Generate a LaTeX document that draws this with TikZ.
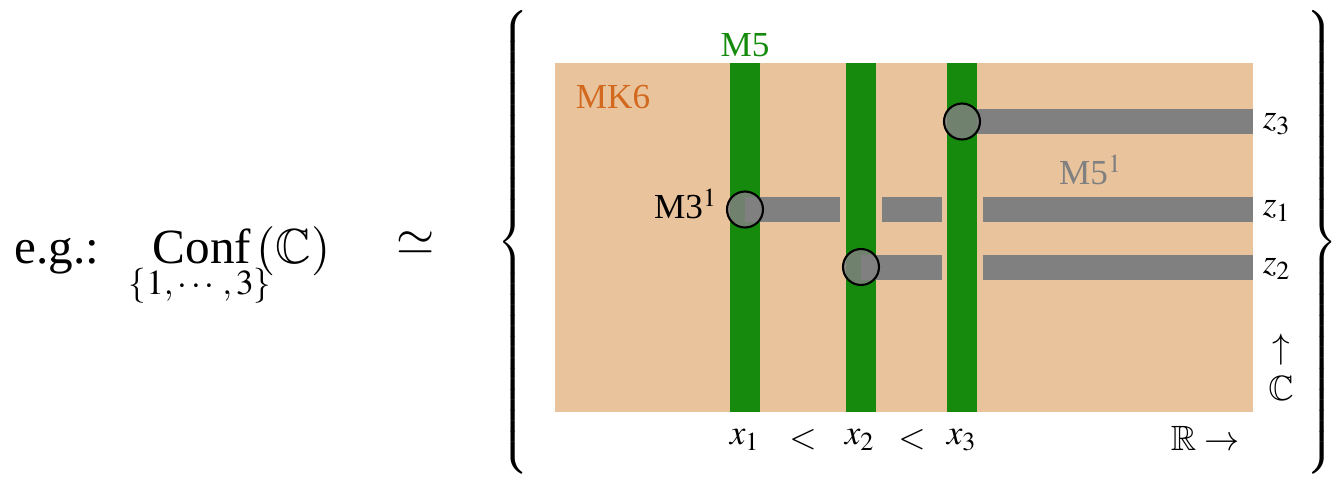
\documentclass[tikz,border=0pt]{standalone}
\usepackage{amsmath,amssymb}
\usepackage{mathptmx}
\usepackage{fontspec}
\setmainfont{Liberation Serif}
\usepackage{tikz}

\begin{document}
\begin{tikzpicture}[x=0.1mm,y=-0.1mm]
\definecolor{braneBulk}{HTML}{E9C39C}
\definecolor{braneGreen}{HTML}{158A0D}
\definecolor{braneGray}{HTML}{808080}
\definecolor{braneOrange}{HTML}{D2691E}
\useasboundingbox (0,0) rectangle (1337,478);
\node[anchor=base west,inner sep=0pt] (eg) at (14,263) {\fontsize{14}{17}\selectfont e.g.:};
\node[anchor=base] (conf) at (202,263) {\fontsize{14}{17}\selectfont Conf};
\node (confsub) at (200,286) {$\{1,\cdots,3\}$};
\node[anchor=base west,inner sep=0pt] (confarg) at (256,263) {\fontsize{14}{17}\selectfont $(\mathbb{C})$};
\node (simeq) at (416,243) {\fontsize{14}{17}\selectfont $\simeq$};
\node[inner sep=0pt] (lbrace) at (515,243) {$\left\{\rule[-2.25cm]{0pt}{4.5cm}\right.$};
\node[inner sep=0pt] (rbrace) at (1320,243) {$\left.\rule[-2.25cm]{0pt}{4.5cm}\right\}$};
\fill[braneBulk] (555,63) rectangle (1253,412);
\foreach \x in {745,861,962} {
  \fill[braneGreen] (\x-15,63) rectangle (\x+15,412);
}
\foreach \a/\b/\y in {977/1253/121.5,745/840/209.5,882/942/209.5,983/1253/209.5,861/942/267,983/1253/267} {
  \fill[braneGray] (\a,\y-12.5) rectangle (\b,\y+12.5);
}
\foreach \x/\y/\n in {745/209.5/one,861/267/two,962/121.5/three} {
  \filldraw[fill=braneGray,fill opacity=0.85,line width=0.6pt] (\x,\y) circle (1.8mm);
}
\node[text=braneGreen] (mfive) at (745,45) {M5};
\node[text=braneOrange] (mksix) at (613,97) {MK6};
\node (mthree) at (686,204) {M3$^1$};
\node[text=braneGray] (mfiveup) at (1091,170) {M5$^1$};
\foreach \y/\lab/\n in {124/z_3/zthree,211/z_1/zone,269/z_2/ztwo} {
  \node (\n) at (1277,\y) {$\lab$};
}
\node (cup) at (1281,350) {$\uparrow$};
\node (cset) at (1281,388) {$\mathbb{C}$};
\foreach \x/\lab/\n in {745/x_1/xone,803/</ltone,860/x_2/xtwo,912/</lttwo,962/x_3/xthree} {
  \node (\n) at (\x,440) {$\lab$};
}
\node (rline) at (1205,438) {$\mathbb{R}\to$};
\end{tikzpicture}
\end{document}
